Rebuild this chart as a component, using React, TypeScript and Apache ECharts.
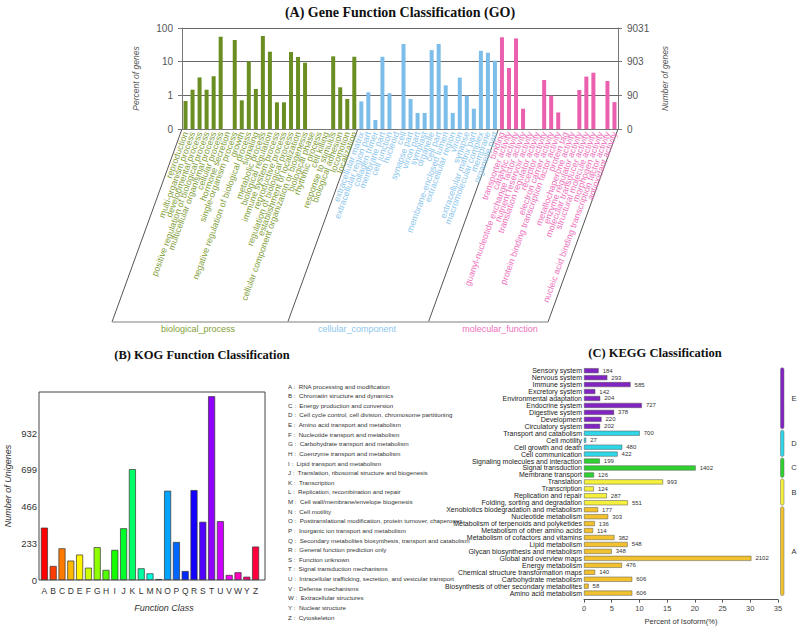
import React, { useEffect, useRef } from 'react';
import * as echarts from 'echarts';

const SANS = 'Liberation Sans, Arial, Helvetica, sans-serif';
const SERIF = 'Liberation Serif, Times New Roman, serif';

// ---------- (A) GO ----------
const goBpNames = ['reproduction', 'multi-organism process', 'developmental process', 'positive regulation of biological process', 'multicellular organismal process', 'cellular process', 'hormone secretion', 'single-organism process', 'growth', 'negative regulation of biological process', 'signaling', 'metabolic process', 'biological regulation', 'immune system process', 'reproductive process', 'regulation of biological process', 'establishment of localization', 'cellular component organization or biogenesis', 'biological phase', 'rhythmic process', 'cell killing', 'response to stimulus', 'biological adhesion', 'locomotion', 'localization'];
const goBpValues = [0.68, 1.47, 3.4, 1.47, 3.7, 55, 0, 44, 0.71, 10.2, 1.54, 58, 19.8, 0.62, 0.62, 19.4, 13.8, 9.3, 0, 0, 0, 14.4, 1.73, 0.78, 14];
const goCcNames = ['extracellular matrix', 'extracellular region part', 'collagen trimer', 'membrane part', 'cell junction', 'nucleoid', 'cell', 'synapse part', 'virion part', 'symplast', 'organelle', 'cell part', 'membrane-enclosed lumen', 'extracellular region', 'virion', 'synapse', 'extracellular matrix part', 'macromolecular complex', 'membrane', 'organelle part'];
const goCcValues = [0.66, 1.23, 0.185, 14, 1.15, 0, 33.5, 0.78, 0.3, 0.3, 22, 33.5, 1.98, 0.3, 3.35, 0.98, 0.4, 21, 18.5, 10.7];
const goMfNames = ['binding', 'transporter activity', 'catalytic activity', 'guanyl-nucleotide exchange factor activity', 'nutrient reservoir activity', 'translation regulator activity', 'receptor activity', 'electron carrier activity', 'protein binding transcription factor activity', 'protein tag', 'metallochaperone activity', 'enzyme regulator activity', 'molecular transducer activity', 'structural molecule activity', 'morphogen activity', 'nucleic acid binding transcription factor activity', 'antioxidant activity'];
const goMfValues = [53, 6.5, 49, 0.4, 0, 0, 2.85, 0.98, 0.31, 0, 0, 1.44, 3.6, 4.7, 0, 2.67, 0.63];
const goGroupNames = ['biological_process', 'cellular_component', 'molecular_function'];
const goTotalGenes = 9031;

// ---------- (B) KOG ----------
const kogLetters = ['A', 'B', 'C', 'D', 'E', 'F', 'G', 'H', 'I', 'J', 'K', 'L', 'M', 'N', 'O', 'P', 'Q', 'R', 'S', 'T', 'U', 'V', 'W', 'Y', 'Z'];
const kogValues = [332, 89, 201, 123, 161, 78, 208, 64, 191, 328, 703, 74, 42, 6, 566, 241, 57, 570, 369, 1165, 373, 32, 49, 21, 212];
const kogTicks = [0, 233, 466, 699, 932];
const kogDescriptions = ['RNA processing and modification', 'Chromatin structure and dynamics', 'Energy production and conversion', 'Cell cycle control, cell division, chromosome partitioning', 'Amino acid transport and metabolism', 'Nucleotide transport and metabolism', 'Carbohydrate transport and metabolism', 'Coenzyme transport and metabolism', 'Lipid transport and metabolism', 'Translation, ribosomal structure and biogenesis', 'Transcription', 'Replication, recombination and repair', 'Cell wall/membrane/envelope biogenesis', 'Cell motility', 'Posttranslational modification, protein turnover, chaperones', 'Inorganic ion transport and metabolism', 'Secondary metabolites biosynthesis, transport and catabolism', 'General function prediction only', 'Function unknown', 'Signal transduction mechanisms', 'Intracellular trafficking, secretion, and vesicular transport', 'Defense mechanisms', 'Extracellular structures', 'Nuclear structure', 'Cytoskeleton'];

// ---------- (C) KEGG ----------
const keggNames = ['Sensory system', 'Nervous system', 'Immune system', 'Excretory system', 'Environmental adaptation', 'Endocrine system', 'Digestive system', 'Development', 'Circulatory system', 'Transport and catabolism', 'Cell motility', 'Cell growth and death', 'Cell communication', 'Signaling molecules and interaction', 'Signal transduction', 'Membrane transport', 'Translation', 'Transcription', 'Replication and repair', 'Folding, sorting and degradation', 'Xenobiotics biodegradation and metabolism', 'Nucleotide metabolism', 'Metabolism of terpenoids and polyketides', 'Metabolism of other amino acids', 'Metabolism of cofactors and vitamins', 'Lipid metabolism', 'Glycan biosynthesis and metabolism', 'Global and overview maps', 'Energy metabolism', 'Chemical structure transformation maps', 'Carbohydrate metabolism', 'Biosynthesis of other secondary metabolites', 'Amino acid metabolism'];
const keggCounts = [184, 293, 585, 142, 204, 727, 378, 220, 202, 700, 27, 480, 422, 199, 1402, 126, 993, 124, 287, 551, 177, 303, 136, 114, 382, 548, 348, 2102, 476, 140, 606, 58, 606];
const keggTotal = 6960;
const keggGroupLetters = ['E', 'D', 'C', 'B', 'A'];
const keggGroupSizes = [9, 4, 3, 4, 13];

// ---------- styles ----------
const goBarColors = ['#6b8e23', '#7dbde9', '#ea5fae'];
const goLabelColors = ['#82a03a', '#8cc6ec', '#ec70bb'];
const keggGroupColors = ['#8124c2', '#2fd6e8', '#2ed22e', '#f5f03c', '#f2c22e'];

function hsvHex(h: number): string {
  const f = (n: number) => {
    const k = (n + h / 60) % 6;
    const v = 1 - Math.max(0, Math.min(k, 4 - k, 1));
    return Math.round(v * 255).toString(16).padStart(2, '0');
  };
  return '#' + f(5) + f(3) + f(1);
}

export default function App() {
  const ref = useRef<HTMLDivElement>(null);
  useEffect(() => {
    if (!ref.current) return;
    const chart = echarts.init(ref.current, undefined, { renderer: 'svg' });

    const goNames = [...goBpNames, ...goCcNames, ...goMfNames];
    const goValues = [...goBpValues, ...goCcValues, ...goMfValues];
    const nBp = goBpNames.length;
    const nCc = goCcNames.length;
    const goGroup = (i: number) => (i < nBp ? 0 : i < nBp + nCc ? 1 : 2);

    const kogColors = kogLetters.map((_, i) => hsvHex((i / kogLetters.length) * 360));

    const keggGroupOf: number[] = [];
    keggGroupSizes.forEach((s, g) => { for (let k = 0; k < s; k++) keggGroupOf.push(g); });
    const keggPercent = keggCounts.map((c) => (c / keggTotal) * 100);

    // geometry
    const goGrid = { left: 182, top: 28, width: 436, height: 101 };
    const kogGrid = { left: 40, top: 392, width: 220, height: 188 };
    const keggGrid = { left: 584, top: 367.2, width: 194, height: 229.4 };

    const graphics: any[] = [];
    const txt = (text: string, x: number, y: number, font: string, fill: string, align = 'center', valign = 'middle') => ({
      type: 'text', x, y, silent: true,
      style: { text, font, fill, align, verticalAlign: valign, textAlign: align, textVerticalAlign: valign },
    });
    // titles
    graphics.push(txt('(A) Gene Function Classification (GO)', 400, 12, `bold 14px ${SERIF}`, '#111'));
    graphics.push(txt('(B) KOG Function Classification', 202, 355, `bold 12.5px ${SERIF}`, '#111'));
    graphics.push(txt('(C) KEGG Classification', 655, 353, `bold 12.5px ${SERIF}`, '#111'));

    // GO slanted group separators
    const catW = goGrid.width / goNames.length;
    const baseY = goGrid.top + goGrid.height;
    const bottomY = 322;
    const slantDx = 70;
    const boundaries = [0, nBp, nBp + nCc, goNames.length];
    boundaries.forEach((b) => {
      const x = goGrid.left + b * catW;
      graphics.push({ type: 'line', silent: true, shape: { x1: x, y1: baseY, x2: x - slantDx, y2: bottomY }, style: { stroke: '#555', lineWidth: 1 } });
    });
    graphics.push({ type: 'line', silent: true, shape: { x1: goGrid.left - slantDx, y1: bottomY, x2: goGrid.left + goGrid.width - slantDx, y2: bottomY }, style: { stroke: '#aaa', lineWidth: 1.5 } });
    const groupCenters = [198, 357, 500];
    goGroupNames.forEach((n, g) => graphics.push(txt(n, groupCenters[g], 329, `9px ${SANS}`, goLabelColors[g])));

    // KOG frame, axis title, legend
    graphics.push({ type: 'rect', silent: true, shape: { x: 39, y: 392, width: 226, height: 188 }, style: { fill: 'none', stroke: '#444', lineWidth: 1 } });
    graphics.push(txt('Function Class', 164, 608, `italic 9px ${SANS}`, '#333'));
    kogLetters.forEach((l, i) => {
      graphics.push(txt(`${l} :  ${kogDescriptions[i]}`, 288, 386 + i * 9.63, `6.2px ${SANS}`, '#333', 'left'));
    });

    // KEGG group capsules
    const keggStep = keggGrid.height / keggNames.length;
    let start = 0;
    keggGroupSizes.forEach((s, g) => {
      const c0 = keggGrid.top + (start + 0.5) * keggStep;
      const c1 = keggGrid.top + (start + s - 0.5) * keggStep;
      const y0 = c0 - 3;
      const y1 = c1 + 2.5;
      graphics.push({ type: 'rect', silent: true, shape: { x: 780.5, y: y0, width: 3.5, height: y1 - y0, r: 1.75 }, style: { fill: keggGroupColors[g], stroke: '#666', lineWidth: 0.5 } });
      graphics.push(txt(keggGroupLetters[g], 794, (y0 + y1) / 2, `7.5px ${SANS}`, '#333'));
      start += s;
    });

    const option: any = {
      animation: false,
      backgroundColor: '#ffffff',
      textStyle: { fontFamily: SANS },
      grid: [
        { ...goGrid, containLabel: false },
        { ...kogGrid, containLabel: false },
        { ...keggGrid, containLabel: false },
      ],
      xAxis: [
        {
          gridIndex: 0, type: 'category', data: goNames,
          axisLine: { show: true, lineStyle: { color: '#777', width: 1 } },
          axisTick: { show: false },
          axisLabel: {
            interval: 0, rotate: 70, fontSize: 8.8, margin: 3, fontFamily: SANS,
            color: (_v: any, i: number) => goLabelColors[goGroup(i)],
          },
        },
        {
          gridIndex: 1, type: 'category', data: kogLetters,
          axisLine: { show: false }, axisTick: { show: false },
          axisLabel: { interval: 0, fontSize: 8.5, color: '#333', margin: 6 },
        },
        {
          gridIndex: 2, type: 'value', min: 0, max: 35, interval: 5, offset: 3,
          axisLine: { show: true, onZero: false, lineStyle: { color: '#555' } },
          axisTick: { show: true, length: 3, lineStyle: { color: '#555' } },
          axisLabel: { fontSize: 7.5, color: '#444', margin: 5 },
          splitLine: { show: false },
          name: 'Percent of Isoform(%)', nameLocation: 'middle', nameGap: 18,
          nameTextStyle: { fontSize: 7.5, color: '#333' },
        },
      ],
      yAxis: [
        {
          gridIndex: 0, type: 'log', logBase: 10, min: 0.1, max: 100, startValue: 0.1, position: 'left',
          axisLine: { show: true, lineStyle: { color: '#777' } },
          axisTick: { show: true, length: 4, lineStyle: { color: '#777' } },
          axisLabel: { fontSize: 10, color: '#555', margin: 9, formatter: (v: number) => (v < 0.5 ? '0' : String(Math.round(v))) },
          splitLine: { show: true, lineStyle: { color: '#666', width: 1 } },
          name: 'Percent of genes', nameLocation: 'middle', nameGap: 42,
          nameTextStyle: { fontStyle: 'italic', fontSize: 8.5, color: '#555' },
        },
        {
          gridIndex: 0, type: 'log', logBase: 10, min: 0.1, max: 100, startValue: 0.1, position: 'right',
          axisLine: { show: true, lineStyle: { color: '#777' } },
          axisTick: { show: true, length: 4, lineStyle: { color: '#777' } },
          axisLabel: { fontSize: 10, color: '#555', margin: 9, formatter: (v: number) => (v < 0.5 ? '0' : String(Math.round((v * goTotalGenes) / 100))) },
          splitLine: { show: false },
          name: 'Number of genes', nameLocation: 'middle', nameGap: 42,
          nameTextStyle: { fontStyle: 'italic', fontSize: 8.5, color: '#555' },
        },
        {
          gridIndex: 1, type: 'value', min: 0, max: 1192, interval: kogTicks[1],
          axisLine: { show: false }, axisTick: { show: false }, splitLine: { show: false },
          axisLabel: { fontSize: 9.5, color: '#333', margin: 3, formatter: (v: number) => (kogTicks.includes(v) ? String(v) : '') },
          name: 'Number of Unigenes', nameLocation: 'middle', nameGap: 28,
          nameTextStyle: { fontStyle: 'italic', fontSize: 9, color: '#333' },
        },
        {
          gridIndex: 2, type: 'category', data: keggNames, inverse: true,
          axisLine: { show: false }, axisTick: { show: false },
          axisLabel: { interval: 0, fontSize: 7, color: '#222', margin: 2 },
        },
      ],
      series: [
        {
          type: 'bar', xAxisIndex: 0, yAxisIndex: 0, barWidth: 4,
          data: goValues.map((v) => (v > 0 ? v : '-')),
          itemStyle: { color: (p: any) => goBarColors[goGroup(p.dataIndex)] },
        },
        {
          type: 'bar', xAxisIndex: 1, yAxisIndex: 2, barWidth: 7,
          data: kogValues,
          itemStyle: { color: (p: any) => kogColors[p.dataIndex], borderColor: '#333', borderWidth: 0.7 },
        },
        {
          type: 'bar', xAxisIndex: 2, yAxisIndex: 3, barWidth: 5,
          data: keggPercent,
          itemStyle: { color: (p: any) => keggGroupColors[keggGroupOf[p.dataIndex]], borderColor: '#555', borderWidth: 0.5 },
          label: { show: true, position: 'right', distance: 4, fontSize: 6, color: '#333', formatter: (p: any) => String(keggCounts[p.dataIndex]) },
        },
      ],
      graphic: graphics,
    };
    chart.setOption(option);
    return () => chart.dispose();
  }, []);
  return <div ref={ref} style={{ position: 'fixed', left: 0, top: 0, width: 800, height: 629, background: '#fff' }} />;
}
